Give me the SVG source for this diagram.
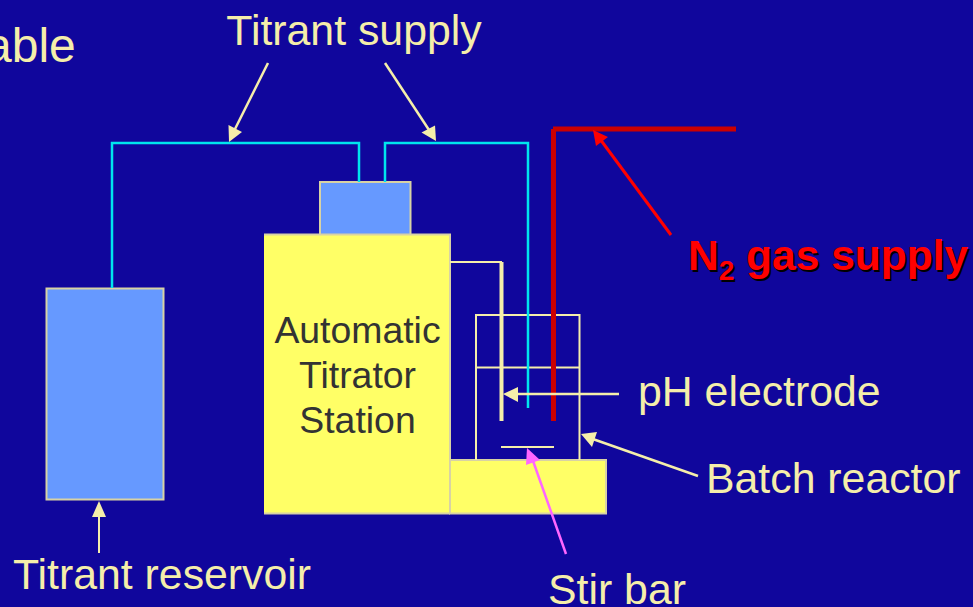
<svg xmlns="http://www.w3.org/2000/svg" width="973" height="607" viewBox="0 0 973 607">
<defs>
<style>
text{font-family:"Liberation Sans",Arial,sans-serif;font-size:42.800px;fill:#f5eeaa}
.box{stroke:#d8d2a4;stroke-width:2}
.blue{fill:#6699ff}
.yel{fill:#ffff66}
.cy{fill:none;stroke:#00e5ee;stroke-width:2.500}
.ln{fill:none;stroke:#f5eeaa}
.ar{fill:#f5eeaa}
.st{font-size:37.400px;fill:#333333}
.n2{font-size:42.500px;font-weight:bold}
.sub{font-size:28px}
</style>
</defs>
<rect width="973" height="607" fill="#10069c"/>
<text x="-15" y="62" style="font-size:48px">able</text>
<g id="node-reservoir"><rect class="box blue" x="46.500" y="288.500" width="117" height="211"/></g>
<g id="node-pump"><rect class="box blue" x="320" y="182" width="90.500" height="53"/></g>
<g id="node-station"><rect class="yel" x="264" y="234.500" width="186" height="279"/><path d="M264 234.500H450V513.500" fill="none" class="box"/><path d="M264 513.500H450" class="box" fill="none"/>
<text x="357.500" y="343" text-anchor="middle" class="st">Automatic</text>
<text x="357.500" y="388" text-anchor="middle" class="st">Titrator</text>
<text x="357.500" y="433" text-anchor="middle" class="st">Station</text></g>
<g id="node-stirplate"><rect class="box yel" x="450" y="460" width="156" height="53.500"/></g>
<g id="node-reactor"><path class="ln" stroke-width="2" d="M476 460V315H579.500V460M476 367.500H579.500"/></g>
<g id="node-stirbar"><path class="ln" stroke-width="2" d="M501 447H554"/></g>
<g id="connectors">
<path class="cy" d="M112 288V143H359V182M385 182V143H528V408"/>
<path class="ln" stroke-width="2" d="M450 262H502"/>
<path class="ln" stroke-width="4" d="M501.500 262V421"/>
<path fill="none" stroke="#cc0000" stroke-width="5" d="M553.500 129V421"/>
<path fill="none" stroke="#cc0000" stroke-width="5" d="M553 129H736"/>
<path class="ln" stroke-width="2.500" d="M268 63L233 133"/><polygon class="ar" points="229,142 228.500,125 242,132"/>
<path class="ln" stroke-width="2.500" d="M385 63L431 133"/><polygon class="ar" points="436,141 421.500,132.500 435,125.500"/>
<path class="ln" stroke-width="2" d="M99 553V510"/><polygon class="ar" points="99,501 106,517 92,517"/>
<path class="ln" stroke-width="2.500" d="M619 394H510"/><polygon class="ar" points="503,394 518,387 518,402"/>
<path class="ln" stroke-width="2.500" d="M698 476L590 438"/><polygon class="ar" points="581,434 597,432 592,447"/>
<path fill="none" stroke="#ff66ff" stroke-width="2.500" d="M566 554L532 458"/><polygon fill="#ff66ff" points="527,448 540,460 526,465"/>
<path fill="none" stroke="#ff0000" stroke-width="3" d="M671 235L600 139"/><polygon fill="#ff0000" points="593,130 608,137 596,146"/>
</g>
<g id="labels">
<text x="690" y="272" class="n2" style="fill:#000">N<tspan dy="10" class="sub">2</tspan><tspan dy="-10"> gas supply</tspan></text>
<text x="688" y="270" class="n2" style="fill:#ff0000">N<tspan dy="10" class="sub">2</tspan><tspan dy="-10"> gas supply</tspan></text>
<text x="354" y="45" text-anchor="middle">Titrant supply</text>
<text x="13" y="589">Titrant reservoir</text>
<text x="548" y="604">Stir bar</text>
<text x="638" y="406">pH electrode</text>
<text x="706" y="493">Batch reactor</text>
</g>
</svg>
